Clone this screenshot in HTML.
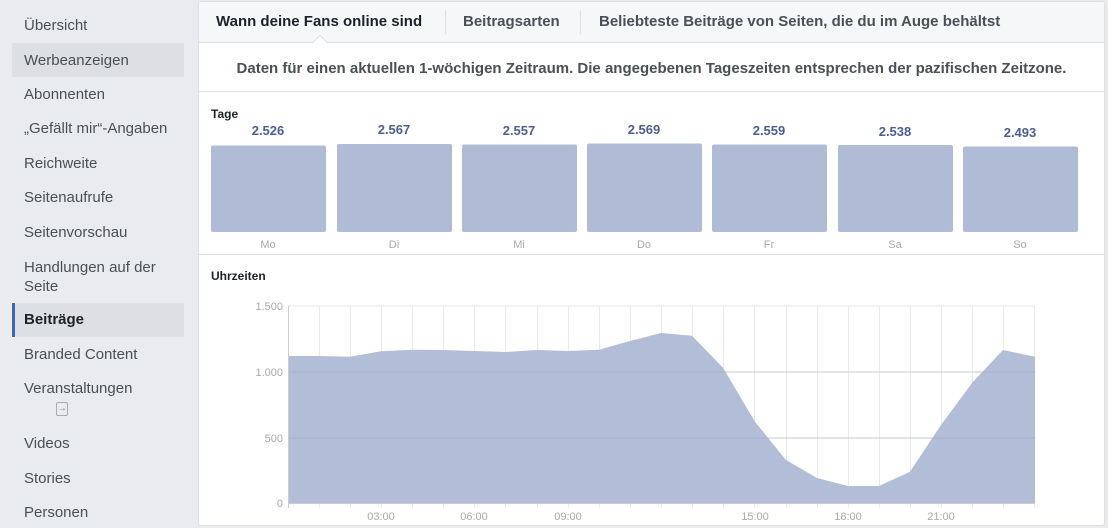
<!DOCTYPE html>
<html><head><meta charset="utf-8"><style>
*{margin:0;padding:0;box-sizing:border-box}
body{width:1108px;height:528px;background:#e9ebee;font-family:"Liberation Sans",Arial,sans-serif;position:relative;overflow:hidden}
.s{position:absolute;left:24px;font-size:15px;color:#4b4f56;line-height:18px}
.hl{position:absolute;left:12px;width:172px;background:#dddfe2}
.p{position:absolute;left:198px;top:1px;width:907px;height:525px;background:#fff;border:1px solid #dddfe2;border-radius:3px}
.t{position:absolute;font-size:15px;font-weight:bold;color:#1d2129;white-space:nowrap}
</style></head><body>
<div class="hl" style="top:43px;height:34px"></div>
<div class="hl" style="top:303px;height:34px"></div>
<div style="position:absolute;left:12px;top:303px;width:3px;height:34px;background:#4267b2"></div>
<div class="s" style="top:17px">Übersicht</div>
<div class="s" style="top:52px">Werbeanzeigen</div>
<div class="s" style="top:86px">Abonnenten</div>
<div class="s" style="top:120px">„Gefällt mir“-Angaben</div>
<div class="s" style="top:155px">Reichweite</div>
<div class="s" style="top:189px">Seitenaufrufe</div>
<div class="s" style="top:224px">Seitenvorschau</div>
<div class="s" style="top:258px;line-height:19px">Handlungen auf der<br>Seite</div>
<div class="s" style="top:311px;font-weight:bold;color:#1d2129">Beiträge</div>
<div class="s" style="top:346px">Branded Content</div>
<div class="s" style="top:380px">Veranstaltungen</div>
<div style="position:absolute;left:56px;top:402px;width:12px;height:14px;border:1px solid #aaa;border-radius:2px;font-size:10px;color:#888;line-height:12px;text-align:center">→</div>
<div class="s" style="top:435px">Videos</div>
<div class="s" style="top:470px">Stories</div>
<div class="s" style="top:504px">Personen</div>

<div class="p"></div>
<div style="position:absolute;left:199px;top:2px;width:905px;height:41px;background:#f6f7f9;border-bottom:1px solid #dddfe2"></div>
<div style="position:absolute;left:314px;top:37px;width:12px;height:12px;background:#fff;border-left:1px solid #dddfe2;border-top:1px solid #dddfe2;transform:rotate(45deg)"></div>
<div class="t" style="left:216px;top:13px">Wann deine Fans online sind</div>
<div style="position:absolute;left:445px;top:10px;width:1px;height:24px;background:#dddfe2"></div>
<div class="t" style="left:463px;top:13px;color:#4b4f56">Beitragsarten</div>
<div style="position:absolute;left:580px;top:10px;width:1px;height:24px;background:#dddfe2"></div>
<div class="t" style="left:599px;top:13px;color:#4b4f56">Beliebteste Beiträge von Seiten, die du im Auge behältst</div>
<div class="t" style="left:199px;width:905px;text-align:center;top:60px;color:#4b4f56">Daten für einen aktuellen 1-wöchigen Zeitraum. Die angegebenen Tageszeiten entsprechen der pazifischen Zeitzone.</div>
<div style="position:absolute;left:199px;top:91px;width:905px;height:1px;background:#dddfe2"></div>
<div style="position:absolute;left:199px;top:254px;width:905px;height:1px;background:#dddfe2"></div>
<div style="position:absolute;left:211px;top:107px;font-size:12px;font-weight:bold;color:#1d2129">Tage</div>
<div style="position:absolute;left:211px;top:269px;font-size:12px;font-weight:bold;color:#1d2129">Uhrzeiten</div>

<svg width="1108" height="528" style="position:absolute;left:0;top:0" font-family="Liberation Sans, Arial, sans-serif">
<g fill="#b0bcd6">
<rect x="211" y="145.5" width="115" height="86.5" rx="2"/>
<rect x="337" y="144" width="115" height="88" rx="2"/>
<rect x="462" y="144.5" width="115" height="87.5" rx="2"/>
<rect x="587" y="143.5" width="115" height="88.5" rx="2"/>
<rect x="712" y="144.5" width="115" height="87.5" rx="2"/>
<rect x="838" y="145" width="115" height="87" rx="2"/>
<rect x="963" y="146.5" width="115" height="85.5" rx="2"/>
</g>
<g fill="#4b5f8f" font-size="13" font-weight="bold" text-anchor="middle">
<text x="268" y="135">2.526</text><text x="394" y="134">2.567</text><text x="519" y="135">2.557</text>
<text x="644" y="134">2.569</text><text x="769" y="135">2.559</text><text x="895" y="136">2.538</text><text x="1020" y="137">2.493</text>
</g>
<g fill="#aaa" font-size="11" text-anchor="middle">
<text x="268" y="248">Mo</text><text x="394" y="248">Di</text><text x="519" y="248">Mi</text><text x="644" y="248">Do</text>
<text x="769" y="248">Fr</text><text x="895" y="248">Sa</text><text x="1020" y="248">So</text>
</g>
<g stroke="#e9eaed" stroke-width="1">
<line x1="288" y1="306" x2="1035" y2="306"/><line x1="288" y1="372" x2="1035" y2="372"/><line x1="288" y1="438" x2="1035" y2="438"/>
<line x1="319.5" y1="306" x2="319.5" y2="508"/><line x1="350.5" y1="306" x2="350.5" y2="508"/><line x1="381.5" y1="306" x2="381.5" y2="508"/>
<line x1="412.5" y1="306" x2="412.5" y2="508"/><line x1="443.5" y1="306" x2="443.5" y2="508"/><line x1="474.5" y1="306" x2="474.5" y2="508"/>
<line x1="505.5" y1="306" x2="505.5" y2="508"/><line x1="537.5" y1="306" x2="537.5" y2="508"/><line x1="568.5" y1="306" x2="568.5" y2="508"/>
<line x1="599.5" y1="306" x2="599.5" y2="508"/><line x1="630.5" y1="306" x2="630.5" y2="508"/><line x1="661.5" y1="306" x2="661.5" y2="508"/>
<line x1="692.5" y1="306" x2="692.5" y2="508"/><line x1="723.5" y1="306" x2="723.5" y2="508"/><line x1="754.5" y1="306" x2="754.5" y2="508"/>
<line x1="786.5" y1="306" x2="786.5" y2="508"/><line x1="817.5" y1="306" x2="817.5" y2="508"/><line x1="848.5" y1="306" x2="848.5" y2="508"/>
<line x1="879.5" y1="306" x2="879.5" y2="508"/><line x1="910.5" y1="306" x2="910.5" y2="508"/><line x1="941.5" y1="306" x2="941.5" y2="508"/>
<line x1="972.5" y1="306" x2="972.5" y2="508"/><line x1="1003.5" y1="306" x2="1003.5" y2="508"/><line x1="1034.5" y1="306" x2="1034.5" y2="508"/>
</g>
<polygon fill="#b0bcd6" fill-opacity="0.97" points="288,356 319,356 350,356.7 381,351.3 412,349.7 443,350 474,351 506,352 537,350 568,351 599,349.7 630,341 661,333 692,335.7 723,367.7 755,421.7 786,460 817,478 848,486 879,486 910,471.7 941,425 972,383 1003,350 1035,356.7 1035,503 288,503"/>
<g stroke="#9aa8c8" stroke-width="1" opacity="0.5">
<line x1="288" y1="372" x2="1035" y2="372"/><line x1="288" y1="438" x2="1035" y2="438"/>
</g>
<line x1="288" y1="503.5" x2="1035" y2="503.5" stroke="#ccc"/>
<line x1="288.5" y1="306" x2="288.5" y2="508" stroke="#ccc"/>
<g fill="#aaa" font-size="11" text-anchor="end">
<text x="283" y="310">1.500</text><text x="283" y="376">1.000</text><text x="283" y="442">500</text><text x="283" y="507">0</text>
</g>
<g fill="#aaa" font-size="11" text-anchor="middle">
<text x="381" y="520">03:00</text><text x="474" y="520">06:00</text><text x="568" y="520">09:00</text>
<text x="755" y="520">15:00</text><text x="848" y="520">18:00</text><text x="941" y="520">21:00</text>
</g>
</svg>
</body></html>
